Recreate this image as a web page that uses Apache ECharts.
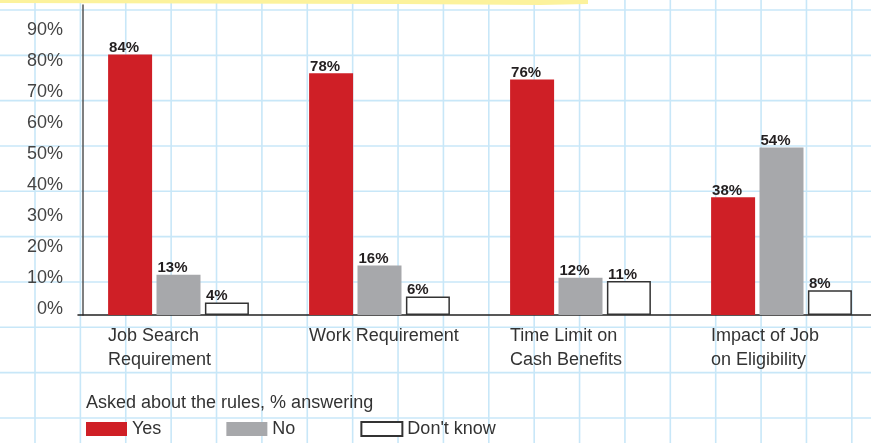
<!DOCTYPE html>
<html>
<head>
<meta charset="utf-8">
<script src="https://cdn.jsdelivr.net/npm/echarts@6/dist/echarts.min.js"></script>
<style>
html,body{margin:0;padding:0;background:#fff;overflow:hidden;}
#chart{width:900px;height:443px;}
</style>
</head>
<body>
<div id="chart"></div>
<script>
const categories = ['Job Search\nRequirement', 'Work Requirement', 'Time Limit on\nCash Benefits', 'Impact of Job\non Eligibility'];
const yesValues = [84, 78, 76, 38];
const noValues = [13, 16, 12, 54];
const dontKnowValues = [4, 6, 11, 8];
const seriesNames = ['Yes', 'No', "Don't know"];
const yTicks = [0, 10, 20, 30, 40, 50, 60, 70, 80, 90];
const legendTitle = 'Asked about the rules, % answering';

const FONT = '"Helvetica Neue", Helvetica, "Liberation Sans", Arial, sans-serif';
const RED = '#cf1f26';
const GRAY = '#a7a8ab';
const GRIDBLUE = '#c8e7f8';

const bg = [];
for (let k = 0; k <= 19; k++) {
  const x = 35 + 45.38 * k;
  bg.push({type: 'line', z: -10, silent: true, shape: {x1: x, y1: 0, x2: x, y2: 443}, style: {stroke: GRIDBLUE, lineWidth: 1.6}});
}
for (let j = 0; j <= 9; j++) {
  const y = 10 + 45.33 * j;
  bg.push({type: 'line', z: -10, silent: true, shape: {x1: 0, y1: y, x2: 900, y2: y}, style: {stroke: GRIDBLUE, lineWidth: 1.6}});
}
bg.push({type: 'polygon', z: -9, silent: true, shape: {points: [[0,0],[588,0],[588,4],[540,5],[400,4],[200,3.5],[0,3]]}, style: {fill: '#fcf29c'}});

const labelCfg = {
  show: true,
  position: [1, 1],
  align: 'left',
  verticalAlign: 'bottom',
  formatter: p => p.value + '%',
  fontFamily: FONT,
  fontSize: 15,
  fontWeight: 'bold',
  color: '#231f20'
};

const chart = echarts.init(document.getElementById('chart'), null, {renderer: 'canvas'});
chart.setOption({
  animation: false,
  backgroundColor: '#fff',
  graphic: bg,
  title: {
    text: legendTitle,
    left: 86,
    top: 394,
    padding: 0,
    textStyle: {fontFamily: FONT, fontSize: 18, fontWeight: 'normal', color: '#333'}
  },
  legend: {
    left: 86,
    top: 420,
    padding: 0,
    itemWidth: 41,
    itemHeight: 14,
    itemGap: 65,
    icon: 'rect',
    textStyle: {fontFamily: FONT, fontSize: 18, color: '#333'},
    data: seriesNames
  },
  grid: {left: 78, top: 5, width: 804, height: 310, containLabel: false},
  xAxis: {
    type: 'category',
    data: categories,
    boundaryGap: true,
    axisLine: {show: true, lineStyle: {color: '#222', width: 1.5}},
    axisTick: {show: false},
    splitLine: {show: false},
    axisLabel: {
      interval: 0,
      margin: 9,
      align: 'center',
      verticalAlign: 'top',
      formatter: v => v.split('\n').map(s => '{a|' + s + '}').join('\n'),
      rich: {a: {width: 141, align: 'left', fontFamily: FONT, fontSize: 18, lineHeight: 24, color: '#333'}}
    }
  },
  yAxis: {
    type: 'value',
    min: 0,
    max: 100,
    interval: 10,
    offset: -5,
    axisLine: {show: true, lineStyle: {color: '#555', width: 1.5}},
    axisTick: {show: false},
    splitLine: {show: false},
    axisLabel: {
      margin: 20,
      verticalAlign: 'bottom',
      lineHeight: 12,
      fontFamily: FONT,
      fontSize: 18,
      color: '#444',
      formatter: v => yTicks.indexOf(v) >= 0 ? v + '%' : ''
    }
  },
  series: [
    {name: seriesNames[0], type: 'bar', data: yesValues, barWidth: 44, barGap: '10%', itemStyle: {color: RED}, label: labelCfg},
    {name: seriesNames[1], type: 'bar', data: noValues, barWidth: 44, barGap: '10%', itemStyle: {color: GRAY}, label: labelCfg},
    {name: seriesNames[2], type: 'bar', data: dontKnowValues, barWidth: 44, barGap: '10%', itemStyle: {color: '#fff', borderColor: '#333', borderWidth: 1.5}, label: labelCfg}
  ]
});
</script>
</body>
</html>
